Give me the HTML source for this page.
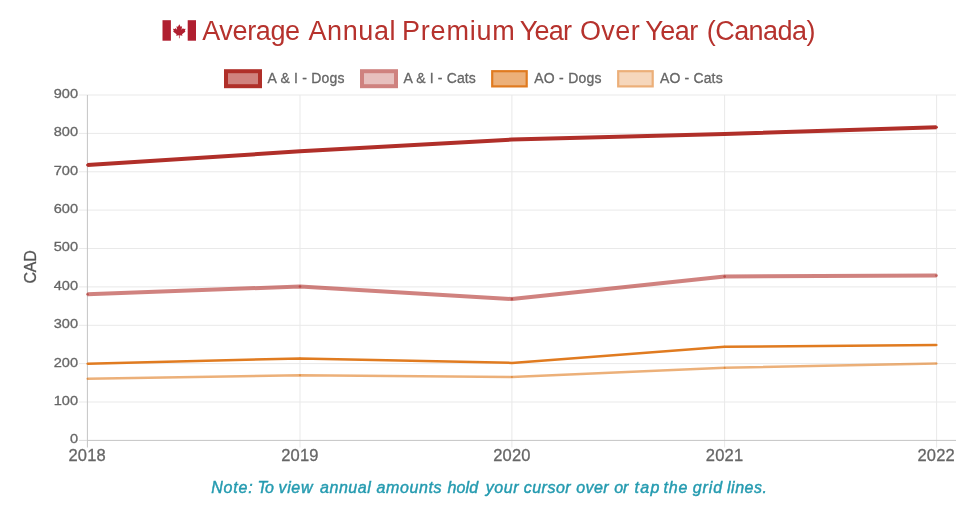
<!DOCTYPE html>
<html lang="en">
<head>
<meta charset="utf-8">
<title>Average Annual Premium Year Over Year (Canada)</title>
<style>
html,body{margin:0;padding:0;background:#fff;}
body{width:980px;height:513px;position:relative;overflow:hidden;font-family:"Liberation Sans",sans-serif;}
#wrap{position:absolute;left:0;top:0;width:980px;height:513px;overflow:hidden;}
svg{position:absolute;left:0;top:0;}
.t{position:absolute;white-space:nowrap;line-height:1;}
.w{position:absolute;width:980px;line-height:1;}
.w span{position:absolute;top:0;white-space:pre;}
#title{left:0;top:17.8px;font-size:27px;color:#b6322d;}
.lg{font-size:14px;color:#666;top:70.8px;-webkit-text-stroke:0.3px #666;}
.yl{font-size:13px;color:#666;-webkit-text-stroke:0.3px #666;width:60px;text-align:right;left:18px;transform:scaleX(1.12);transform-origin:100% 50%;margin-top:-1.6px;}
.xl{font-size:16.5px;letter-spacing:.2px;color:#666;-webkit-text-stroke:0.3px #666;width:60px;text-align:center;top:447px;}
#cad{font-size:16px;color:#555;-webkit-text-stroke:0.3px #555;left:30.6px;top:266.8px;letter-spacing:-0.3px;transform:translate(-50%,-50%) rotate(-90deg);}
#note{left:0;top:479.7px;font-size:16px;font-style:italic;color:#259bb0;-webkit-text-stroke:0.45px #259bb0;}
</style>
</head>
<body>
<div id="wrap">
<svg width="980" height="513" viewBox="0 0 980 513">
  <!-- flag -->
  <g id="flag">
    <rect x="162.5" y="20.2" width="8.4" height="20.5" fill="#b01f30"/>
    <rect x="187.7" y="20.2" width="8.3" height="20.5" fill="#b01f30"/>
    <path id="leaf" fill="#b01f30" transform="translate(179.3 24.3) scale(0.85)" d="M0 0 l1.6 3 1.7-.8 -.7 4.2 1.9-2 .5 1.2 2.4-.4 -.9 2.6 .9.6 -4.2 3.4 .5 1.6 -3.3-.5 v3.4 h-.8 v-3.4 l-3.3.5 .5-1.6 -4.2-3.4 .9-.6 -.9-2.6 2.4.4 .5-1.2 1.9 2 -.7-4.2 1.7.8z"/>
  </g>
  <!-- grid -->
  <g stroke="#e9e9e9" stroke-width="1" fill="none">
    <path d="M79 95H956M79 133.4H956M79 171.8H956M79 210.1H956M79 248.5H956M79 286.9H956M79 325.3H956M79 363.6H956M79 402H956"/>
    <path d="M300 95V447.5M511.9 95V447.5M724.6 95V447.5M936.6 95V447.5"/>
  </g>
  <g stroke="#c4c4c4" stroke-width="1" fill="none">
    <path d="M87.4 95V447.5M87.4 440.4H956"/><path stroke="#dadada" d="M79 440.4H87"/>
  </g>
  <!-- series -->
  <g fill="none" stroke-linejoin="round" stroke-linecap="butt">
    <polyline stroke="#b02f29" stroke-opacity="1" stroke-width="4" points="87.4,165.1 300,151.3 511.9,139.6 724.6,133.9 936.6,127.2"/>
    <polyline stroke="#b02f29" stroke-opacity="0.6" stroke-width="4" points="87.4,294.3 300,286.5 511.9,299 724.6,276.5 936.6,275.6"/>
    <polyline stroke="#e07b20" stroke-opacity="1" stroke-width="2.5" points="87.4,363.7 300,358.4 511.9,362.9 724.6,346.7 936.6,345.1"/>
    <polyline stroke="#e07b20" stroke-opacity="0.6" stroke-width="2.5" points="87.4,378.8 300,375.3 511.9,377.1 724.6,367.7 936.6,363.6"/>
  </g>
  <g stroke="none">
    <circle cx="87.4" cy="165.1" r="1.3" fill="#b02f29" fill-opacity="1"/>
    <circle cx="300" cy="151.3" r="1.3" fill="#b02f29" fill-opacity="1"/>
    <circle cx="511.9" cy="139.6" r="1.3" fill="#b02f29" fill-opacity="1"/>
    <circle cx="724.6" cy="133.9" r="1.3" fill="#b02f29" fill-opacity="1"/>
    <circle cx="936.6" cy="127.2" r="1.3" fill="#b02f29" fill-opacity="1"/>
    <circle cx="87.4" cy="294.3" r="1.3" fill="#b02f29" fill-opacity="0.6"/>
    <circle cx="300" cy="286.5" r="1.3" fill="#b02f29" fill-opacity="0.6"/>
    <circle cx="511.9" cy="299" r="1.3" fill="#b02f29" fill-opacity="0.6"/>
    <circle cx="724.6" cy="276.5" r="1.3" fill="#b02f29" fill-opacity="0.6"/>
    <circle cx="936.6" cy="275.6" r="1.3" fill="#b02f29" fill-opacity="0.6"/>
    <circle cx="87.4" cy="363.7" r="1" fill="#e07b20" fill-opacity="1"/>
    <circle cx="300" cy="358.4" r="1" fill="#e07b20" fill-opacity="1"/>
    <circle cx="511.9" cy="362.9" r="1" fill="#e07b20" fill-opacity="1"/>
    <circle cx="724.6" cy="346.7" r="1" fill="#e07b20" fill-opacity="1"/>
    <circle cx="936.6" cy="345.1" r="1" fill="#e07b20" fill-opacity="1"/>
    <circle cx="87.4" cy="378.8" r="1" fill="#e07b20" fill-opacity="0.6"/>
    <circle cx="300" cy="375.3" r="1" fill="#e07b20" fill-opacity="0.6"/>
    <circle cx="511.9" cy="377.1" r="1" fill="#e07b20" fill-opacity="0.6"/>
    <circle cx="724.6" cy="367.7" r="1" fill="#e07b20" fill-opacity="0.6"/>
    <circle cx="936.6" cy="363.6" r="1" fill="#e07b20" fill-opacity="0.6"/>
  </g>
  <!-- legend boxes -->
  <rect x="226" y="71.2" width="34" height="15" fill="#d0827e" stroke="#b02f29" stroke-width="4"/>
  <rect x="362" y="71.2" width="34" height="15" fill="#e7c0be" stroke="#cf827f" stroke-width="4"/>
  <rect x="492.2" y="71.2" width="34.5" height="15.2" fill="#ecb079" stroke="#e07b20" stroke-width="2.2"/>
  <rect x="618.2" y="71.2" width="34.5" height="15.2" fill="#f6d7bc" stroke="#ecaf79" stroke-width="2.2"/>
</svg>
<div class="w" id="title"><span style="left:202.20px;letter-spacing:-0.358px">Average </span><span style="left:308.50px;letter-spacing:0.600px">Annual </span><span style="left:402.05px;letter-spacing:0.775px">Premium </span><span style="left:519.85px;letter-spacing:-0.767px">Year </span><span style="left:579.90px;letter-spacing:0.450px">Over </span><span style="left:645.20px;letter-spacing:-0.467px">Year </span><span style="left:706.75px;letter-spacing:-0.550px">(Canada) </span></div>
<div class="t lg" style="left:267.5px;letter-spacing:.22px">A &amp; I - Dogs</div>
<div class="t lg" style="left:403.5px;letter-spacing:.14px">A &amp; I - Cats</div>
<div class="t lg" style="left:534.2px;letter-spacing:.26px">AO - Dogs</div>
<div class="t lg" style="left:660px;letter-spacing:.15px">AO - Cats</div>
<div class="t yl" style="top:88.5px">900</div>
<div class="t yl" style="top:126.9px">800</div>
<div class="t yl" style="top:165.3px">700</div>
<div class="t yl" style="top:203.6px">600</div>
<div class="t yl" style="top:242.0px">500</div>
<div class="t yl" style="top:280.4px">400</div>
<div class="t yl" style="top:318.8px">300</div>
<div class="t yl" style="top:357.1px">200</div>
<div class="t yl" style="top:395.5px">100</div>
<div class="t yl" style="top:433.9px">0</div>
<div class="t xl" style="left:57.2px">2018</div>
<div class="t xl" style="left:270.0px">2019</div>
<div class="t xl" style="left:481.9px">2020</div>
<div class="t xl" style="left:694.6px">2021</div>
<div class="t xl" style="left:906.2px">2022</div>
<div class="t" id="cad">CAD</div>
<div class="w" id="note"><span style="left:211.25px;letter-spacing:0.816px">Note: </span><span style="left:257.55px;letter-spacing:-0.900px">To </span><span style="left:278.50px;letter-spacing:0.641px">view </span><span style="left:320.05px;letter-spacing:0.528px">annual </span><span style="left:376.60px;letter-spacing:0.610px">amounts </span><span style="left:447.55px;letter-spacing:0.114px">hold </span><span style="left:485.80px;letter-spacing:0.537px">your </span><span style="left:523.75px;letter-spacing:0.482px">cursor </span><span style="left:576.30px;letter-spacing:0.374px">over </span><span style="left:614.30px;letter-spacing:-0.290px">or </span><span style="left:634.50px;letter-spacing:1.320px">tap </span><span style="left:663.55px;letter-spacing:0.815px">the </span><span style="left:692.85px;letter-spacing:0.880px">grid </span><span style="left:727.00px;letter-spacing:0.512px">lines. </span></div>
</div>
</body>
</html>
